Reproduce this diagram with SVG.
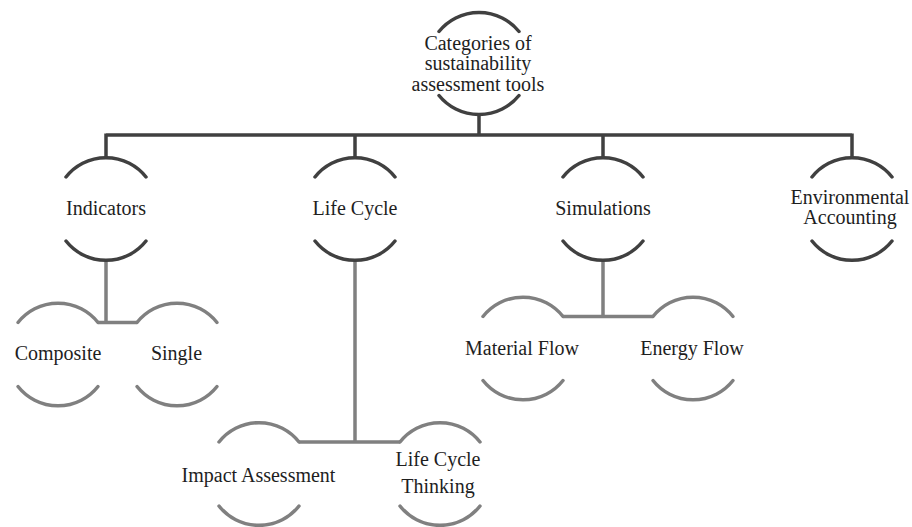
<svg xmlns="http://www.w3.org/2000/svg" width="912" height="527" viewBox="0 0 912 527">
  <defs>
    <style>
      .arc-dark { fill: none; stroke: #404040; stroke-width: 3.5; stroke-linecap: round; }
      .arc-light { fill: none; stroke: #808080; stroke-width: 3.5; stroke-linecap: round; }
      .link-dark { fill: none; stroke: #404040; stroke-width: 3.5; stroke-linejoin: miter; }
      .link-light { fill: none; stroke: #808080; stroke-width: 3.5; stroke-linejoin: miter; }
      .label { font-family: "Liberation Serif", "Times New Roman", serif; font-size: 20px; fill: #1e1e1e; text-anchor: middle; }
    </style>
  </defs>
  <rect width="912" height="527" fill="#ffffff"/>

  <!-- connectors -->
  <g id="connectors">
    <path class="link-dark" d="M479 114 V135 M106 135 H852 M106 133.5 V158 M355 133.5 V158 M603 133.5 V158 M852 133.5 V158"/>
    <path class="link-light" d="M106 260 V322.5 M98 322.5 H137"/>
    <path class="link-light" d="M355 260 V442 M299 442 H400"/>
    <path class="link-light" d="M603 260 V316.5 M563 316.5 H653"/>
  </g>

  <!-- root -->
  <g id="node-root">
    <path class="arc-dark" d="M439 31.5 A51.5 51.5 0 0 1 519 31.5 M439 95.5 A51.5 51.5 0 0 0 519 95.5"/>
    <text class="label" x="478" y="50">Categories of</text>
    <text class="label" x="478" y="70">sustainability</text>
    <text class="label" x="478" y="91">assessment tools</text>
  </g>

  <!-- level 1 -->
  <g id="node-indicators">
    <path class="arc-dark" d="M66 177 A51 51 0 0 1 146 177 M66 241 A51 51 0 0 0 146 241"/>
    <text class="label" x="106" y="215">Indicators</text>
  </g>
  <g id="node-life-cycle">
    <path class="arc-dark" d="M315 177 A51 51 0 0 1 395 177 M315 241 A51 51 0 0 0 395 241"/>
    <text class="label" x="355" y="215">Life Cycle</text>
  </g>
  <g id="node-simulations">
    <path class="arc-dark" d="M563 177 A51 51 0 0 1 643 177 M563 241 A51 51 0 0 0 643 241"/>
    <text class="label" x="603" y="215">Simulations</text>
  </g>
  <g id="node-environmental-accounting">
    <path class="arc-dark" d="M812 177 A51 51 0 0 1 892 177 M812 241 A51 51 0 0 0 892 241"/>
    <text class="label" x="850" y="204">Environmental</text>
    <text class="label" x="850" y="224">Accounting</text>
  </g>

  <!-- level 2 -->
  <g id="node-composite">
    <path class="arc-light" d="M18 322.5 A51 51 0 0 1 98 322.5 M18 386.5 A51 51 0 0 0 98 386.5"/>
    <text class="label" x="58" y="360">Composite</text>
  </g>
  <g id="node-single">
    <path class="arc-light" d="M137 322.5 A51 51 0 0 1 217 322.5 M137 386.5 A51 51 0 0 0 217 386.5"/>
    <text class="label" x="176.5" y="360">Single</text>
  </g>
  <g id="node-impact-assessment">
    <path class="arc-light" d="M219 442 A51 51 0 0 1 299 442 M219 506 A51 51 0 0 0 299 506"/>
    <text class="label" x="258.5" y="482">Impact Assessment</text>
  </g>
  <g id="node-life-cycle-thinking">
    <path class="arc-light" d="M400 442 A51 51 0 0 1 480 442 M400 506 A51 51 0 0 0 480 506"/>
    <text class="label" x="438" y="466">Life Cycle</text>
    <text class="label" x="438" y="493">Thinking</text>
  </g>
  <g id="node-material-flow">
    <path class="arc-light" d="M483 316.5 A51 51 0 0 1 563 316.5 M483 380.5 A51 51 0 0 0 563 380.5"/>
    <text class="label" x="522" y="355">Material Flow</text>
  </g>
  <g id="node-energy-flow">
    <path class="arc-light" d="M653 316.5 A51 51 0 0 1 733 316.5 M653 380.5 A51 51 0 0 0 733 380.5"/>
    <text class="label" x="692" y="355">Energy Flow</text>
  </g>
</svg>
